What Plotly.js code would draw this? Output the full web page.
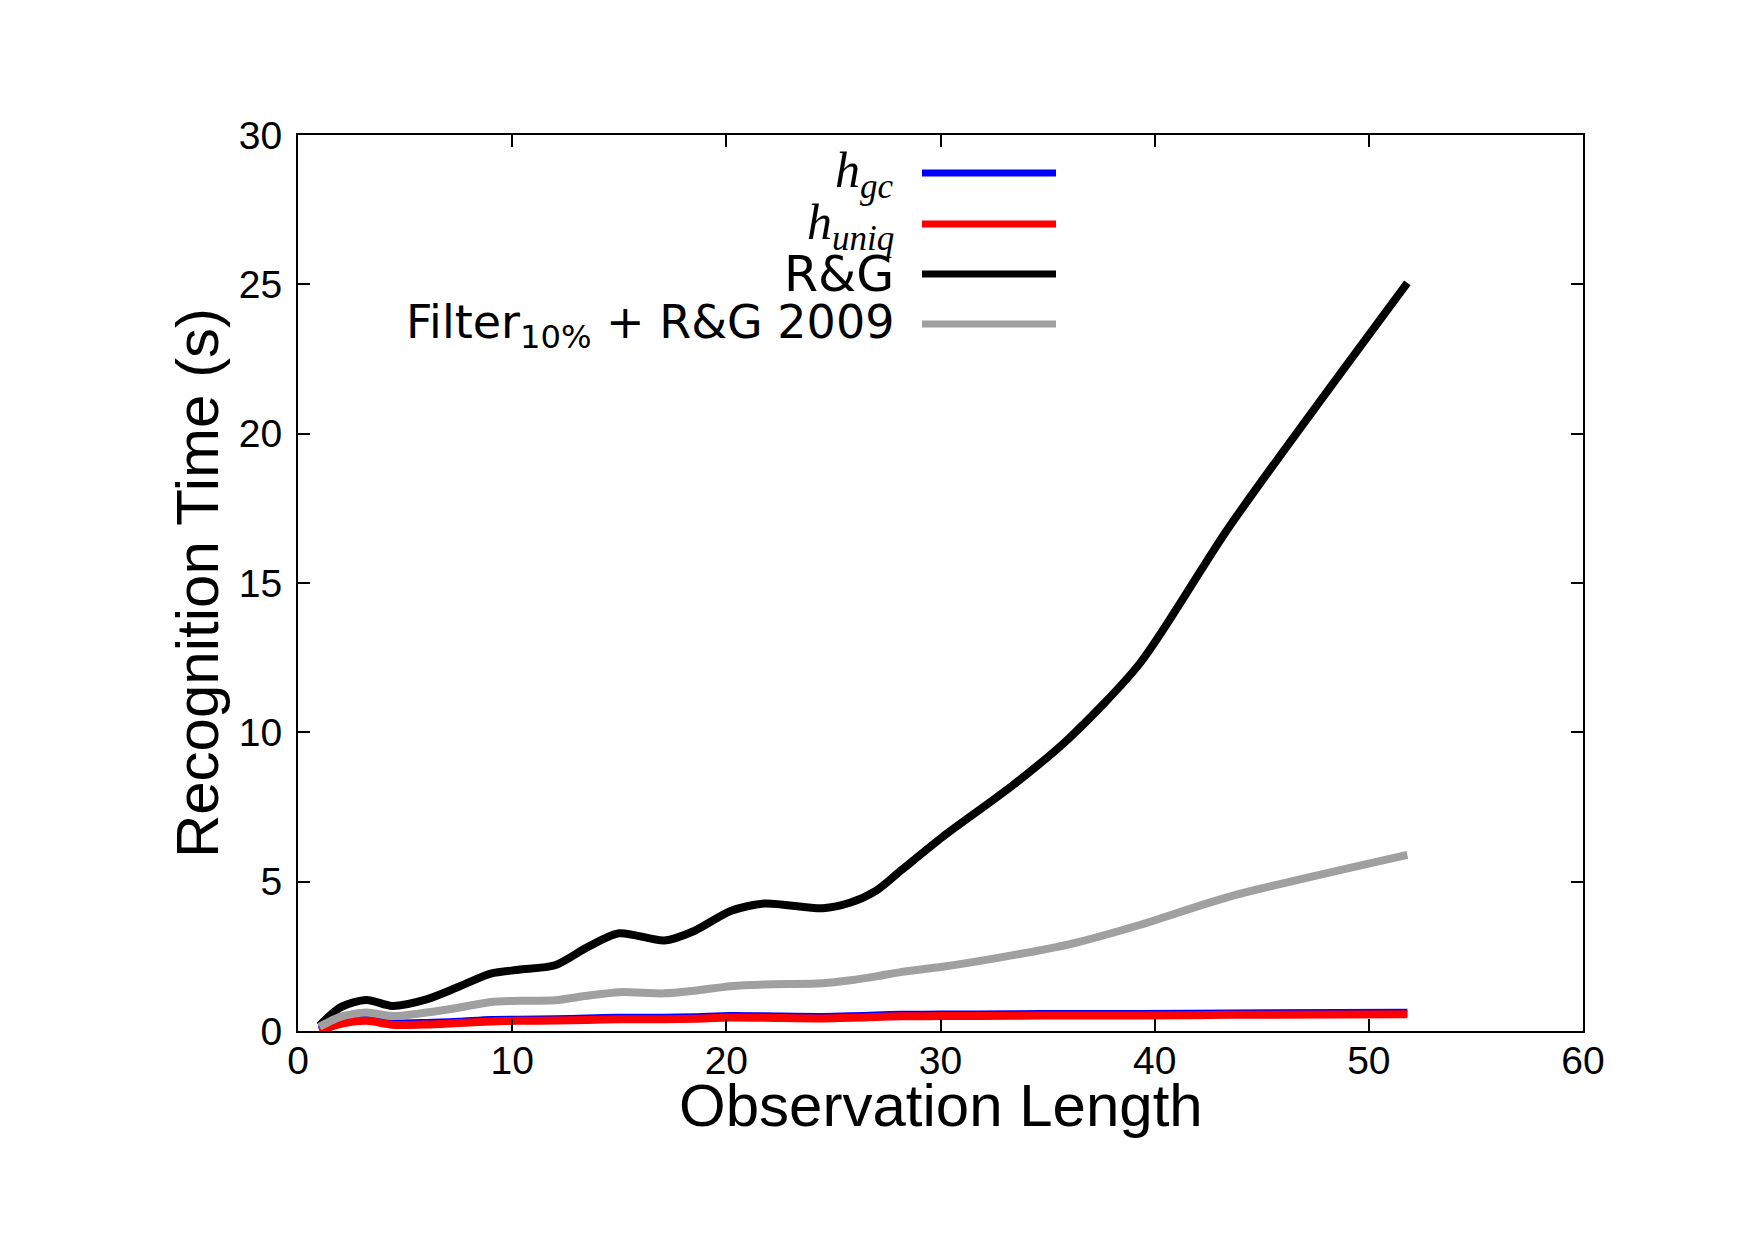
<!DOCTYPE html>
<html>
<head>
<meta charset="utf-8">
<script src="https://cdn.plot.ly/plotly-3.0.1.min.js"></script>
<style>
  html, body { margin: 0; padding: 0; background: #ffffff; }
  #chart { width: 1755px; height: 1240px; }
</style>
</head>
<body>
<div id="chart"></div>
<script>
// Observation length (x) and recognition time in seconds (y) for each method
const obsLength = [1, 2, 3.2, 4.4, 6, 7.5, 9, 10.3, 12, 13.5, 15, 17.1, 18.5, 20.2, 21.8, 24.5, 25.8, 27, 28.2, 30.1, 33.4, 36, 39.3, 43.5, 51.8];

const hGc      = [0.05, 0.30, 0.40, 0.26, 0.27, 0.31, 0.37, 0.38, 0.39, 0.42, 0.44, 0.44, 0.46, 0.50, 0.49, 0.47, 0.49, 0.52, 0.54, 0.55, 0.56, 0.57, 0.57, 0.59, 0.61];
const hUniq    = [0.00, 0.24, 0.34, 0.21, 0.22, 0.27, 0.32, 0.34, 0.35, 0.37, 0.39, 0.39, 0.41, 0.45, 0.44, 0.42, 0.44, 0.47, 0.49, 0.50, 0.51, 0.52, 0.52, 0.54, 0.56];
const rg       = [0.18, 0.80, 1.04, 0.84, 1.06, 1.48, 1.92, 2.05, 2.20, 2.80, 3.27, 3.03, 3.35, 4.02, 4.27, 4.11, 4.30, 4.70, 5.40, 6.50, 8.24, 9.80, 12.30, 16.90, 25.05];
const filterRg = [0.14, 0.48, 0.62, 0.50, 0.62, 0.78, 0.97, 1.01, 1.03, 1.18, 1.30, 1.26, 1.35, 1.50, 1.56, 1.60, 1.70, 1.83, 1.98, 2.15, 2.54, 2.90, 3.55, 4.50, 5.90];

const seriesLabels = [
  "<i>h</i><sub><i>gc</i></sub>",
  "<i>h</i><sub><i>uniq</i></sub>",
  "R&amp;G",
  "Filter<sub>10%</sub> + R&amp;G 2009"
];
const seriesColors = ["#0000ff", "#ff0000", "#000000", "#a0a0a0"];
const seriesValues = [hGc, hUniq, rg, filterRg];

const xTicks = [0, 10, 20, 30, 40, 50, 60];
const yTicks = [0, 5, 10, 15, 20, 25, 30];

const xTitle = "Observation Length";
const yTitle = "Recognition Time (s)";

const traces = seriesValues.map((vals, i) => ({
  type: "scatter",
  mode: "lines",
  x: obsLength,
  y: vals,
  name: seriesLabels[i],
  line: { color: seriesColors[i], width: 8, shape: "spline", smoothing: 0.75 },
  hoverinfo: "skip",
  showlegend: false
}));

// Plot-area geometry in pixels, used to place the key and x title in paper units
const W = 1755, H = 1240;
const L = 298, R = 1583, T = 135, B = 1031;
const px2x = p => (p - L) / (R - L);
const px2y = p => (B - p) / (B - T);

const keyRowsPx = [173, 224, 274, 324];
const keyTextY = [174, 226, 274, 325];
const keyFonts = [
  { family: "Liberation Serif", size: 50 },
  { family: "Liberation Serif", size: 50 },
  { family: "DejaVu Sans", size: 49 },
  { family: "DejaVu Sans", size: 46 }
];

const shapes = keyRowsPx.map((py, i) => ({
  type: "line", xref: "paper", yref: "paper",
  x0: px2x(922), x1: px2x(1056), y0: px2y(py), y1: px2y(py),
  line: { color: seriesColors[i], width: 7 }
}));

const annotations = seriesLabels.map((txt, i) => ({
  xref: "paper", yref: "paper",
  x: px2x(896), y: px2y(keyTextY[i]),
  xanchor: "right", yanchor: "middle",
  text: txt, showarrow: false,
  font: Object.assign({ color: "#000000" }, keyFonts[i])
}));

// x-axis title, set just under the tick labels
annotations.push({
  xref: "paper", yref: "paper",
  x: 0.5, y: px2y(1105),
  xanchor: "center", yanchor: "middle",
  text: xTitle, showarrow: false,
  font: { family: "Liberation Sans, Arial, sans-serif", size: 60, color: "#000000" }
});

const axisCommon = {
  showgrid: false, zeroline: false,
  showline: true, linecolor: "#000000", linewidth: 2,
  mirror: "ticks", ticks: "inside", ticklen: 12, tickwidth: 2, tickcolor: "#000000",
  tickfont: { family: "Liberation Sans, Arial, sans-serif", size: 39, color: "#000000" }
};

const layout = {
  width: W, height: H,
  paper_bgcolor: "#ffffff", plot_bgcolor: "#ffffff",
  margin: { l: L, r: W - R, t: T, b: H - B, pad: 0 },
  showlegend: false,
  xaxis: Object.assign({}, axisCommon, {
    range: [0, 60], tickvals: xTicks, ticktext: xTicks.map(String),
    ticklabelstandoff: -6
  }),
  yaxis: Object.assign({}, axisCommon, {
    range: [0, 30], tickvals: yTicks, ticktext: yTicks.map(String),
    ticklabelstandoff: 6,
    title: { text: yTitle, standoff: 1,
             font: { family: "Liberation Sans, Arial, sans-serif", size: 60, color: "#000000" } }
  }),
  shapes: shapes,
  annotations: annotations
};

Plotly.newPlot("chart", traces, layout, { staticPlot: true, displayModeBar: false });
</script>
</body>
</html>
